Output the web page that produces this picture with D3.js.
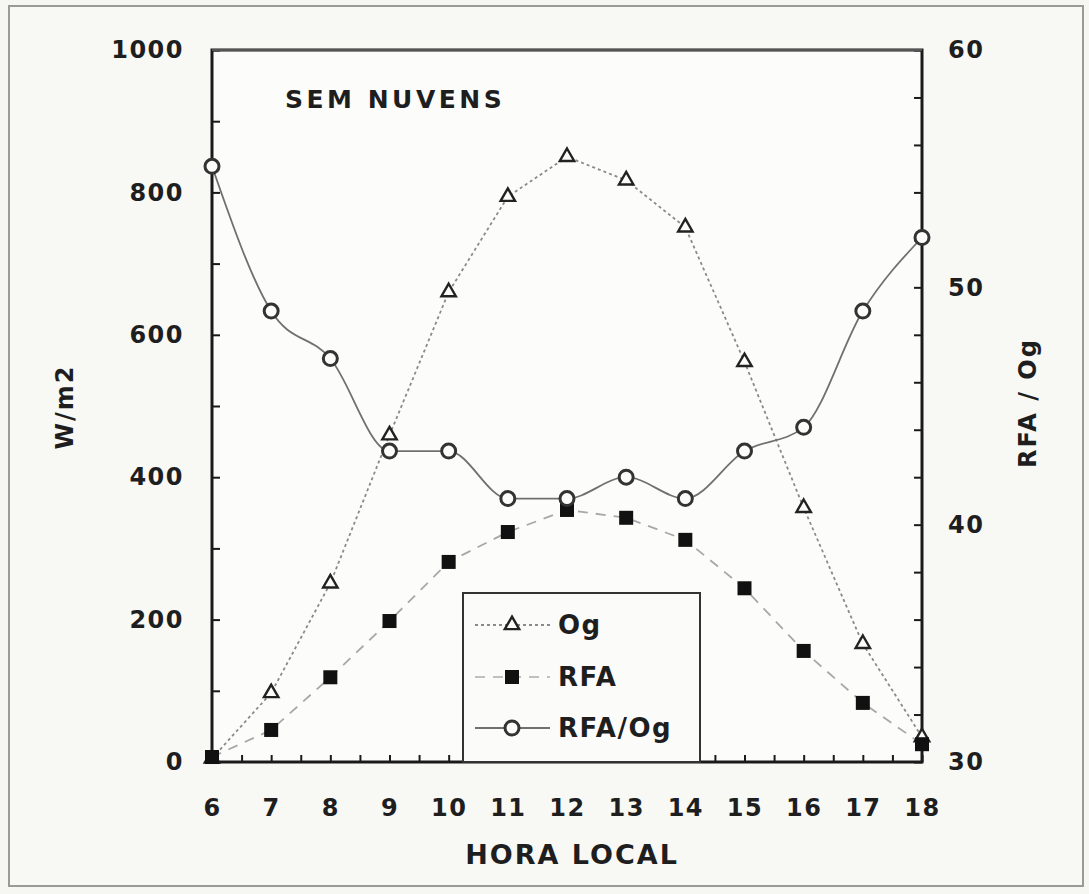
<!DOCTYPE html>
<html>
<head>
<meta charset="utf-8">
<script src="https://cdn.jsdelivr.net/npm/d3@7"></script>
<style>
  html, body { margin: 0; padding: 0; background: #f6f6f3; }
  svg { display: block; }
  text { font-family: "DejaVu Sans", "Liberation Sans", Arial, sans-serif; font-weight: bold; fill: #1e1e1e; }
</style>
</head>
<body>
<svg id="chart" width="1089" height="894"></svg>
<script>
// ---- data ----
const hours = [6, 7, 8, 9, 10, 11, 12, 13, 14, 15, 16, 17, 18];
const og = [5, 97, 251, 459, 660, 794, 850, 817, 751, 562, 357, 166, 35];
const rfa = [7, 45, 119, 198, 281, 323, 354, 343, 312, 244, 156, 83, 25];
const rfaOg = [55.1, 49.0, 47.0, 43.1, 43.1, 41.1, 41.1, 42.0, 41.1, 43.1, 44.1, 49.0, 52.1];
const leftTicks = [0, 200, 400, 600, 800, 1000];
const rightTicks = [30, 40, 50, 60];
const chartTitle = "SEM NUVENS";
const xLabel = "HORA LOCAL";
const yLeftLabel = "W/m2";
const yRightLabel = "RFA / Og";
const legendNames = ["Og", "RFA", "RFA/Og"];

const svg = d3.select("#chart");
const M = { left: 212, right: 922, top: 50, bottom: 762 };

// outer frame
svg.append("rect").attr("x", 9).attr("y", 6).attr("width", 1074).attr("height", 880)
  .attr("fill", "#f8f8f5").attr("stroke", "#9a9a96").attr("stroke-width", 2);
svg.append("rect").attr("x", M.left).attr("y", M.top)
  .attr("width", M.right - M.left).attr("height", M.bottom - M.top)
  .attr("fill", "#fcfcfb");

const x = d3.scaleLinear().domain([6, 18]).range([M.left, M.right]);
const yL = d3.scaleLinear().domain([0, 1000]).range([M.bottom, M.top]);
const yR = d3.scaleLinear().domain([30, 60]).range([M.bottom, M.top]);

// axes
const axisColor = "#1a1a1a";
const styleAxis = g => {
  g.select(".domain").remove();
  g.selectAll("line").attr("stroke", axisColor).attr("stroke-width", 2);
  g.selectAll("text").style("font-size", "24px").style("letter-spacing", "1.5px")
    .style("font-family", "'DejaVu Sans', sans-serif").style("font-weight", "bold").attr("fill", "#1e1e1e");
};
// minor ticks
const xMinor = d3.range(6, 18.01, 0.5);
const yLMinor = d3.range(0, 1001, 100);
const yRMinor = d3.range(30, 60.01, 2);

svg.append("g").attr("transform", `translate(0,${M.bottom})`)
  .call(d3.axisBottom(x).tickValues(xMinor).tickSize(-7).tickFormat(""))
  .call(styleAxis);
svg.append("g").attr("transform", `translate(0,${M.bottom})`)
  .call(d3.axisBottom(x).tickValues(hours).tickSize(0).tickPadding(37).tickFormat(d3.format("d")))
  .call(styleAxis);

svg.append("g").attr("transform", `translate(${M.left},0)`)
  .call(d3.axisLeft(yL).tickValues(yLMinor).tickSize(-8).tickFormat(""))
  .call(styleAxis);
svg.append("g").attr("transform", `translate(${M.left},0)`)
  .call(d3.axisLeft(yL).tickValues(leftTicks).tickSize(0).tickPadding(28).tickFormat(d3.format("d")))
  .call(styleAxis);

svg.append("g").attr("transform", `translate(${M.right},0)`)
  .call(d3.axisRight(yR).tickValues(yRMinor).tickSize(-8).tickFormat(""))
  .call(styleAxis);
svg.append("g").attr("transform", `translate(${M.right},0)`)
  .call(d3.axisRight(yR).tickValues(rightTicks).tickSize(0).tickPadding(26).tickFormat(d3.format("d")))
  .call(styleAxis);

// frame lines
svg.append("path")
  .attr("d", `M${M.left},${M.top}H${M.right}V${M.bottom}H${M.left}Z`)
  .attr("fill", "none").attr("stroke", axisColor).attr("stroke-width", 3);
svg.append("line").attr("x1", M.left).attr("x2", M.right).attr("y1", M.top).attr("y2", M.top)
  .attr("stroke", "#555").attr("stroke-width", 2);

// axis titles
svg.append("text").attr("x", 572).attr("y", 864).attr("text-anchor", "middle")
  .style("font-size", "27px").style("letter-spacing", "2px").text(xLabel);
svg.append("text").attr("transform", "translate(73,407) rotate(-90)").attr("text-anchor", "middle")
  .style("font-size", "24px").style("letter-spacing", "2px").text(yLeftLabel);
svg.append("text").attr("transform", "translate(1036,403) rotate(-90)").attr("text-anchor", "middle")
  .style("font-size", "24px").style("letter-spacing", "2px").text(yRightLabel);
svg.append("text").attr("x", 285).attr("y", 108)
  .style("font-size", "25px").style("letter-spacing", "3.5px").text(chartTitle);

// lines
const lineOg = d3.line().x((d, i) => x(hours[i])).y(d => yL(d));
const lineRfa = d3.line().x((d, i) => x(hours[i])).y(d => yL(d));
const lineRatio = d3.line().x((d, i) => x(hours[i])).y(d => yR(d)).curve(d3.curveMonotoneX);

svg.append("path").attr("d", lineOg(og)).attr("fill", "none")
  .attr("stroke", "#8a8a8a").attr("stroke-width", 1.8).attr("stroke-dasharray", "3,3");
svg.append("path").attr("d", lineRfa(rfa)).attr("fill", "none")
  .attr("stroke", "#a8a8a8").attr("stroke-width", 1.8).attr("stroke-dasharray", "10,8");
svg.append("path").attr("d", lineRatio(rfaOg)).attr("fill", "none")
  .attr("stroke", "#707070").attr("stroke-width", 1.8);

// markers
const tri = d3.symbol().type(d3.symbolTriangle).size(90);
svg.append("g").selectAll("path").data(og).join("path")
  .attr("transform", (d, i) => `translate(${x(hours[i])},${yL(d)})`)
  .attr("d", tri).attr("fill", "#fcfcfb").attr("stroke", "#222").attr("stroke-width", 2.4);
svg.append("g").selectAll("rect").data(rfa).join("rect")
  .attr("x", (d, i) => x(hours[i]) - 7).attr("y", d => yL(d) - 7)
  .attr("width", 14).attr("height", 14).attr("fill", "#111");
svg.append("g").selectAll("circle").data(rfaOg).join("circle")
  .attr("cx", (d, i) => x(hours[i])).attr("cy", d => yR(d)).attr("r", 7)
  .attr("fill", "#fcfcfb").attr("stroke", "#333").attr("stroke-width", 3);

// legend
const lg = svg.append("g");
lg.append("rect").attr("x", 463).attr("y", 593).attr("width", 237).attr("height", 169)
  .attr("fill", "#fbfbf9").attr("stroke", "#333").attr("stroke-width", 2);
const legendY = [625, 677, 728];
const legendStroke = [["#8a8a8a", "3,3"], ["#c0c0c0", "10,8"], ["#707070", null]];
legendNames.forEach((name, i) => {
  const yy = legendY[i];
  lg.append("line").attr("x1", 475).attr("x2", 550).attr("y1", yy).attr("y2", yy)
    .attr("stroke", legendStroke[i][0]).attr("stroke-width", 1.8)
    .attr("stroke-dasharray", legendStroke[i][1]);
  if (i === 0) {
    lg.append("path").attr("transform", `translate(512,${yy})`).attr("d", tri)
      .attr("fill", "#fbfbf9").attr("stroke", "#222").attr("stroke-width", 2.4);
  } else if (i === 1) {
    lg.append("rect").attr("x", 505).attr("y", yy - 7).attr("width", 14).attr("height", 14).attr("fill", "#111");
  } else {
    lg.append("circle").attr("cx", 512).attr("cy", yy).attr("r", 7)
      .attr("fill", "#fbfbf9").attr("stroke", "#333").attr("stroke-width", 3);
  }
  lg.append("text").attr("x", 558).attr("y", yy + 9).style("font-size", "26px")
    .style("letter-spacing", "1.5px").text(name);
});
</script>
</body>
</html>
